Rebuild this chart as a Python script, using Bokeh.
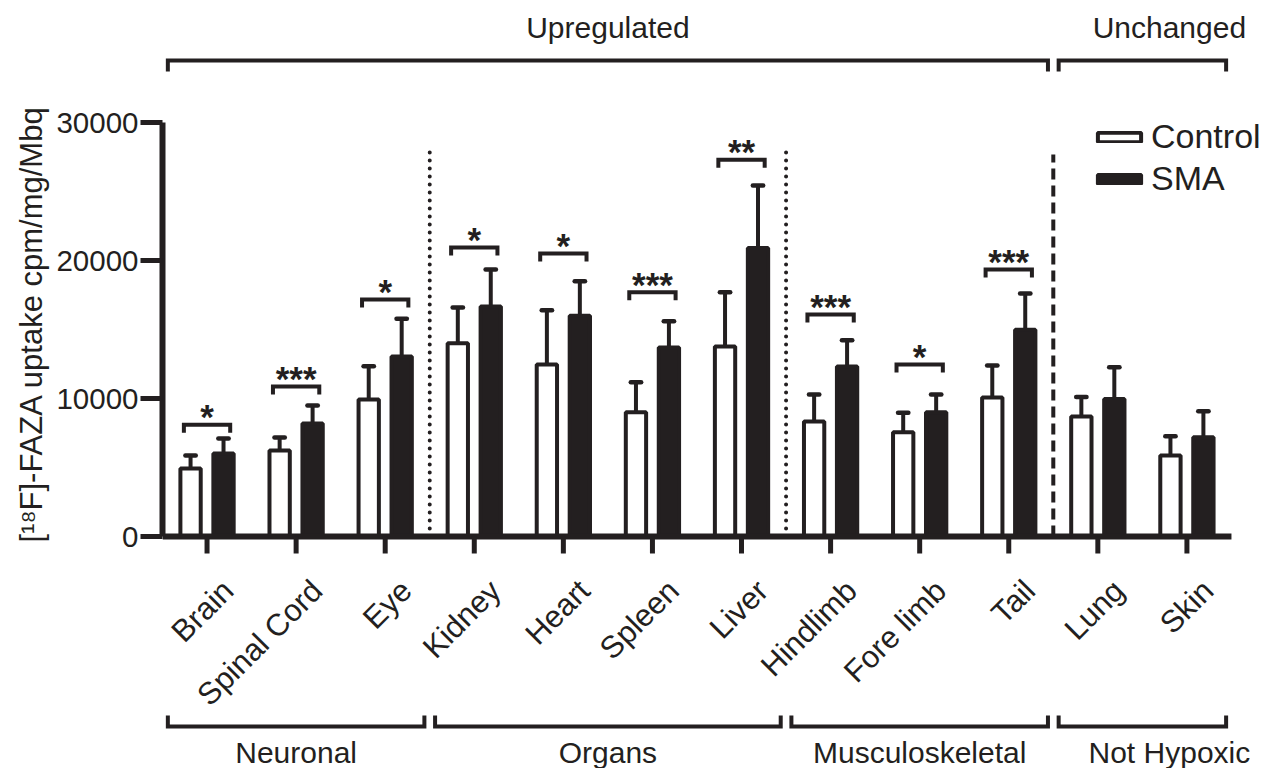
import numpy as np
from math import pi
from bokeh.plotting import figure
from bokeh.models import (Range1d, FixedTicker, Legend, LegendItem, Title)
from bokeh.core.properties import value
from bokeh.embed import file_html
from bokeh.resources import INLINE

# ---------------- data ----------------
categories = ["Brain", "Spinal Cord", "Eye", "Kidney", "Heart", "Spleen",
              "Liver", "Hindlimb", "Fore limb", "Tail", "Lung", "Skin"]
control_mean = [4930, 6240, 9930, 14000, 12460, 9000, 13770, 8340, 7560, 10080, 8700, 5870]
control_err = [940, 930, 2410, 2590, 3940, 2180, 3930, 1950, 1400, 2310, 1400, 1400]
sma_mean = [6010, 8190, 13050, 16670, 16000, 13700, 20900, 12320, 9000, 14980, 9960, 7200]
sma_err = [1090, 1300, 2720, 2680, 2500, 1900, 4530, 1900, 1290, 2630, 2310, 1880]
significance = ["*", "***", "*", "*", "*", "***", "**", "***", "*", "***", "", ""]
bracket_level = [8100, 10870, 17170, 20940, 20500, 17700, 27300, 16090, 12460, 19350, None, None]

bottom_groups = ["Neuronal", "Organs", "Musculoskeletal", "Not Hypoxic"]
bottom_first = [0, 3, 7, 10]
bottom_last = [2, 6, 9, 11]
top_groups = ["Upregulated", "Unchanged"]
top_first = [0, 10]
top_last = [9, 11]

dotted_at = [2.5, 6.5]
dashed_at = [9.5]

y_ticks = [0, 10000, 20000, 30000]
y_max = 30000
y_label = "[\u00b9\u2078F]-FAZA uptake cpm/mg/Mbq"

# ---------------- styling / layout ----------------
BLK = "#231f20"
FONT = "Liberation Sans"
OFF = 0.185      # half distance between the two bars of a group
BW = 0.228       # bar width
CAP = 0.058      # half width of error caps
PX = 10000 / 138.0   # data units per screen pixel (vertical)

n = len(categories)
idx = np.arange(n)
cx = idx - OFF
sx = idx + OFF

# frame covers the whole canvas height so that the group brackets fit inside it
Y0 = -232 * PX
Y1 = 536 * PX
X0 = -0.5
X1 = X0 + 1106 / 89.08

p = figure(width=1268, height=768, output_backend="svg", toolbar_location=None,
           x_range=Range1d(X0, X1), y_range=Range1d(Y0, Y1),
           min_border_left=162, min_border_right=0, min_border_top=0,
           min_border_bottom=0)
p.outline_line_color = None
p.xgrid.visible = False
p.ygrid.visible = False
p.xaxis.visible = False
p.background_fill_color = "white"

# separators
p.segment(x0=dotted_at, y0=[0] * len(dotted_at), x1=dotted_at, y1=[28330] * len(dotted_at),
          line_color=BLK, line_width=4, line_dash="0 8", line_cap="round")
p.segment(x0=dashed_at, y0=[0], x1=dashed_at, y1=[27680],
          line_color=BLK, line_width=4, line_dash="11 6")

# error bars (upper only)
c_top = np.array(control_mean) + np.array(control_err)
s_top = np.array(sma_mean) + np.array(sma_err)
p.segment(x0=cx, y0=control_mean, x1=cx, y1=c_top, line_color=BLK, line_width=4)
p.segment(x0=sx, y0=sma_mean, x1=sx, y1=s_top, line_color=BLK, line_width=4)
p.segment(x0=cx - CAP, y0=c_top, x1=cx + CAP, y1=c_top, line_color=BLK, line_width=4.5,
          line_cap="round")
p.segment(x0=sx - CAP, y0=s_top, x1=sx + CAP, y1=s_top, line_color=BLK, line_width=4.5,
          line_cap="round")

# bars
ctrl = p.vbar(x=cx, top=control_mean, bottom=0, width=BW, fill_color="white",
              line_color=BLK, line_width=4)
sma = p.vbar(x=sx, top=sma_mean, bottom=0, width=BW, fill_color=BLK,
             line_color=BLK, line_width=4)

# x axis line, ticks and category labels (drawn on the data scale)
p.segment(x0=[X0], y0=[0], x1=[n - 0.5], y1=[0], line_color=BLK, line_width=6)
p.segment(x0=idx, y0=[0] * n, x1=idx, y1=[-17 * PX] * n, line_color=BLK, line_width=5)
p.text(x=idx, y=[0] * n, text=categories, angle=pi / 4, text_align="right",
       text_baseline="middle", x_offset=21, y_offset=49,
       text_font=value(FONT), text_font_size="31px", text_color=BLK)

# significance brackets
LEG = 8 * PX
HALF = 0.26
bx, by, tx, ty, tt = [], [], [], [], []
for i in range(n):
    if bracket_level[i] is None:
        continue
    b = bracket_level[i]
    bx.append([i - HALF, i - HALF, i + HALF, i + HALF])
    by.append([b - LEG, b, b, b - LEG])
    tx.append(i)
    ty.append(b)
    tt.append(significance[i])
p.multi_line(xs=bx, ys=by, line_color=BLK, line_width=4, line_join="miter")
p.text(x=tx, y=ty, text=tt, text_align="center", text_baseline="alphabetic",
       y_offset=-8, text_font=value(FONT), text_font_size="35px",
       text_font_style="bold", text_color=BLK)

# y axis (real axis, bounded to the data span)
ya = p.yaxis[0]
ya.bounds = (0, y_max)
ya.ticker = FixedTicker(ticks=y_ticks)
ya.minor_tick_line_color = None
ya.major_tick_in = 0
ya.major_tick_out = 22
ya.major_tick_line_width = 5
ya.major_tick_line_color = BLK
ya.axis_line_width = 6
ya.axis_line_color = BLK
ya.major_label_text_font = FONT
ya.major_label_text_font_size = "29.5px"
ya.major_label_text_color = BLK
ya.major_label_standoff = 2

# y axis title, placed beside the bounded part of the axis
p.add_layout(Title(text=y_label, align="left", offset=226, standoff=10,
                   text_font=FONT, text_font_size="31px", text_font_style="normal",
                   text_color=BLK), "left")

# legend
legend = Legend(items=[LegendItem(label="Control", renderers=[ctrl]),
                       LegendItem(label="SMA", renderers=[sma])],
                location=(930, 570), orientation="vertical",
                glyph_width=54, glyph_height=12, label_standoff=5, spacing=3,
                padding=0, margin=0, border_line_color=None,
                background_fill_alpha=0, label_text_font=FONT,
                label_text_font_size="34px", label_text_color=BLK)
p.add_layout(legend)

# group brackets
PAD = 0.44


def brackets(names, firsts, lasts, y, leg, label_y, shifted):
    xs, ys, lx, lt, lo = [], [], [], [], []
    for name, f, l in zip(names, firsts, lasts):
        x0, x1 = f - PAD, l + PAD
        xs.append([x0, x0, x1, x1])
        ys.append([leg, y, y, leg])
        lx.append((x0 + x1) / 2)
        lt.append(name)
        lo.append(27 if name in shifted else 0)
    p.multi_line(xs=xs, ys=ys, line_color=BLK, line_width=4, line_join="miter")
    p.text(x=lx, y=[label_y] * len(lx), text=lt, x_offset=lo, text_align="center",
           text_baseline="middle", text_font=value(FONT), text_font_size="30px",
           text_color=BLK)


brackets(bottom_groups, bottom_first, bottom_last, -190 * PX, -179 * PX, -216 * PX,
         ["Not Hypoxic"])
brackets(top_groups, top_first, top_last, 476 * PX, 465 * PX, 509 * PX, ["Unchanged"])

open("out.html", "w").write(file_html(p, INLINE))
